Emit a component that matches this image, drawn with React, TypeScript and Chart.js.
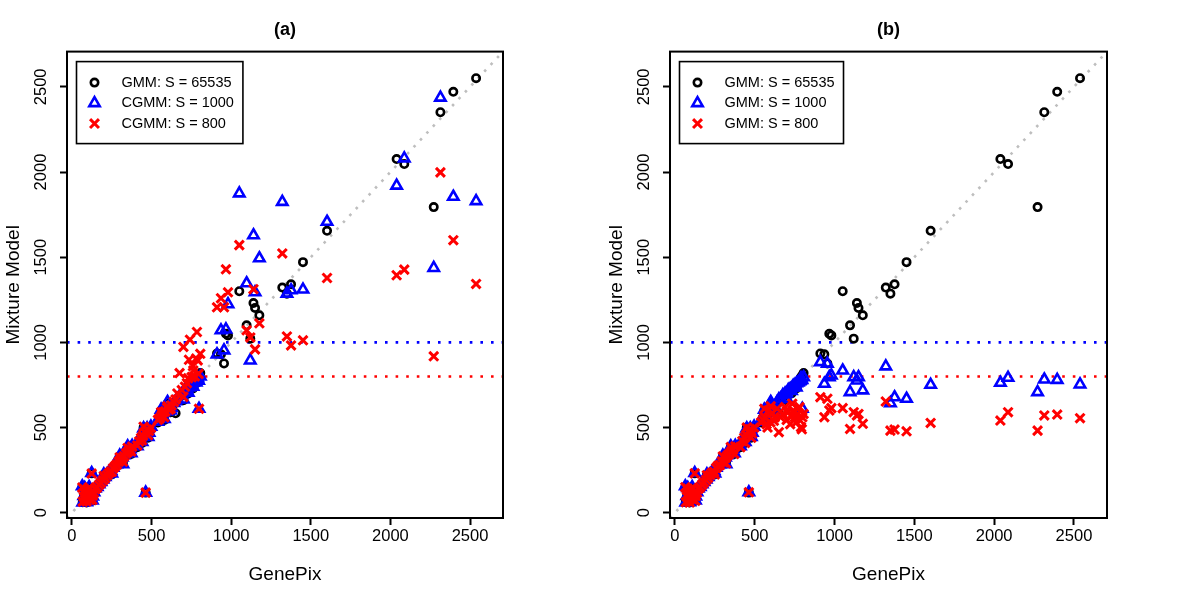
import React, { useEffect, useRef } from 'react';
import { Chart, registerables } from 'chart.js';

Chart.register(...registerables);

// ---------- data ----------
const genePix = [
  65, 68, 75, 82, 88, 95, 100, 106, 112, 118,
  124, 130, 138, 146, 158, 170, 182, 195, 208, 220,
  232, 245, 258, 270, 282, 294, 305, 316, 328, 340,
  352, 365, 378, 410, 422, 434, 446, 458, 463, 472,
  484, 496, 540, 552, 563, 574, 586, 598, 610, 625,
  640, 651, 662, 676, 690, 700, 710, 722, 735, 741,
  752, 762, 772, 785, 790, 798, 806,
  80, 92, 108, 128, 200, 250, 300, 320, 350, 372,
  440, 450, 478, 560, 580, 600, 620, 700, 730, 760,
  780, 795,
  911, 936, 955, 967, 980, 1051, 1097, 1120, 1140, 1150,
  1177, 1321, 1350, 1376, 1451, 1602, 2039, 2087, 2272, 2314,
  2395, 2538,
];

const gmm65535 = [
  150, 62, 95, 72, 112, 86, 130, 102, 78, 120,
  231, 98, 118, 140, 150, 165, 178, 192, 205, 222,
  235, 240, 262, 275, 280, 302, 295, 322, 335, 345,
  360, 370, 390, 385, 420, 440, 455, 475, 118, 490,
  465, 500, 530, 560, 545, 580, 600, 590, 620, 610,
  640, 584, 660, 680, 690, 705, 715, 720, 730, 745,
  750, 760, 770, 785, 795, 805, 820,
  140, 60, 145, 70, 220, 225, 330, 290, 385, 345,
  410, 500, 440, 600, 545, 640, 590, 660, 700, 730,
  760, 770,
  935, 930, 876, 1051, 1041, 1300, 1100, 1022, 1231, 1202,
  1159, 1322, 1286, 1341, 1471, 1655, 2076, 2047, 1794, 2351,
  2471, 2551,
];

const cgmm1000 = [
  155, 60, 98, 70, 115, 88, 128, 100, 80, 122,
  233, 96, 120, 142, 152, 168, 180, 196, 210, 225,
  238, 245, 265, 280, 285, 305, 300, 325, 338, 350,
  365, 375, 392, 390, 425, 445, 460, 480, 118, 495,
  470, 505, 535, 565, 550, 585, 605, 595, 625, 615,
  645, 655, 665, 685, 695, 710, 720, 725, 735, 740,
  755, 765, 770, 780, 790, 610, 800,
  145, 62, 150, 72, 225, 230, 335, 285, 390, 350,
  415, 495, 445, 605, 550, 650, 600, 665, 705, 740,
  765, 775,
  929, 1071, 953, 1076, 1224, 1875, 1347, 894, 1629, 1294,
  1494, 1825, 1286, 1306, 1310, 1708, 1920, 2080, 1437, 2437,
  1855, 1829,
];

const cgmm800 = [
  148, 65, 92, 75, 110, 85, 132, 105, 76, 118,
  230, 100, 116, 138, 148, 163, 176, 190, 203, 220,
  232, 242, 260, 272, 283, 300, 310, 320, 332, 348,
  358, 372, 388, 395, 418, 438, 452, 472, 118, 488,
  480, 498, 545, 555, 570, 590, 595, 615, 605, 630,
  650, 665, 700, 820, 720, 973, 740, 760, 898, 1016,
  796, 835, 800, 1061, 894, 610, 933,
  135, 66, 148, 75, 215, 240, 325, 300, 380, 360,
  425, 505, 455, 590, 560, 625, 610, 680, 790, 860,
  905, 815,
  1206, 1259, 1206, 1429, 1294, 1571, 1071, 1029, 1312, 959,
  1112, 1522, 1035, 982, 1012, 1378, 1394, 1427, 918, 1998,
  1600, 1343,
];

const gmm1000 = [
  155, 60, 98, 70, 115, 88, 128, 100, 80, 122,
  233, 96, 120, 142, 152, 168, 180, 196, 210, 225,
  238, 245, 265, 280, 285, 305, 300, 325, 338, 350,
  365, 375, 392, 390, 425, 445, 460, 480, 120, 495,
  470, 505, 535, 565, 550, 585, 605, 640, 630, 620,
  650, 665, 670, 690, 700, 700, 720, 725, 735, 745,
  750, 760, 765, 775, 790, 610, 796,
  145, 62, 150, 72, 225, 230, 335, 285, 390, 350,
  415, 495, 445, 605, 550, 650, 600, 670, 715, 735,
  770, 780,
  884, 757, 875, 796, 806, 835, 708, 796, 776, 796,
  718, 859, 643, 678, 669, 751, 763, 792, 708, 782,
  780, 753,
];

const gmm800 = [
  150, 62, 95, 72, 112, 86, 130, 102, 78, 120,
  231, 98, 118, 140, 150, 165, 178, 192, 205, 222,
  235, 240, 262, 275, 280, 302, 295, 322, 335, 345,
  360, 370, 390, 385, 420, 440, 455, 475, 120, 490,
  465, 500, 530, 545, 560, 520, 600, 530, 585, 560,
  610, 473, 560, 580, 620, 545, 590, 520, 640, 600,
  560, 575, 610, 541, 502, 560, 580,
  140, 60, 145, 70, 220, 225, 330, 290, 385, 345,
  410, 500, 440, 610, 500, 625, 540, 595, 565, 530,
  620, 490,
  678, 561, 669, 600, 614, 614, 492, 590, 571, 580,
  522, 653, 482, 488, 478, 527, 541, 590, 482, 571,
  576, 555,
];

const axisTicks = [0, 500, 1000, 1500, 2000, 2500];
const axisMin = -31;
const axisMax = 2707;
const thresholdValues = [1000, 800];
const thresholdColors = ['#0000ff', '#ff0000'];

const panelTitles = ['(a)', '(b)'];
const labelsA = ['GMM: S = 65535', 'CGMM: S = 1000', 'CGMM: S = 800'];
const labelsB = ['GMM: S = 65535', 'GMM: S = 1000', 'GMM: S = 800'];
const xTitle = 'GenePix';
const yTitle = 'Mixture Model';

// ---------- styles ----------
const FONT = '"Liberation Sans", Arial, Helvetica, sans-serif';
Chart.defaults.font.family = FONT;

const markerStyles = [
  { pointStyle: 'circle', radius: 3.7, borderWidth: 2.6, color: '#000000', order: 2 },
  { pointStyle: 'triangle', radius: 6, borderWidth: 2.6, color: '#0000ff', order: 1 },
  { pointStyle: 'crossRot', radius: 6.3, borderWidth: 3, color: '#ff0000', order: 0 },
];

function drawMarker(ctx: CanvasRenderingContext2D, style: string, x: number, y: number, r: number) {
  ctx.beginPath();
  if (style === 'circle') {
    ctx.arc(x, y, r, 0, Math.PI * 2);
    ctx.closePath();
  } else if (style === 'triangle') {
    let rad = 0;
    ctx.moveTo(x + Math.sin(rad) * r, y - Math.cos(rad) * r);
    rad += (2 * Math.PI) / 3;
    ctx.lineTo(x + Math.sin(rad) * r, y - Math.cos(rad) * r);
    rad += (2 * Math.PI) / 3;
    ctx.lineTo(x + Math.sin(rad) * r, y - Math.cos(rad) * r);
    ctx.closePath();
  } else {
    const o = Math.cos(Math.PI / 4) * r;
    ctx.moveTo(x - o, y - o);
    ctx.lineTo(x + o, y + o);
    ctx.moveTo(x + o, y - o);
    ctx.lineTo(x - o, y + o);
  }
  ctx.stroke();
}

const decorPlugin = {
  id: 'decor',
  beforeDatasetsDraw(chart: any) {
    const { ctx, chartArea: a } = chart;
    const xs = chart.scales.x;
    const ys = chart.scales.y;
    ctx.save();
    ctx.beginPath();
    ctx.rect(a.left, a.top, a.right - a.left, a.bottom - a.top);
    ctx.clip();
    ctx.lineCap = 'butt';
    // y = x reference line
    const lo = Math.max(xs.min, ys.min);
    const hi = Math.min(xs.max, ys.max);
    ctx.strokeStyle = '#bebebe';
    ctx.lineWidth = 2.6;
    ctx.setLineDash([2.6, 6.8]);
    ctx.beginPath();
    ctx.moveTo(xs.getPixelForValue(lo), ys.getPixelForValue(lo));
    ctx.lineTo(xs.getPixelForValue(hi), ys.getPixelForValue(hi));
    ctx.stroke();
    // thresholds
    thresholdValues.forEach((v, i) => {
      const py = ys.getPixelForValue(v);
      ctx.strokeStyle = thresholdColors[i];
      ctx.lineWidth = 2.6;
      ctx.setLineDash([2.6, 8]);
      ctx.beginPath();
      ctx.moveTo(a.left, py);
      ctx.lineTo(a.right, py);
      ctx.stroke();
    });
    ctx.restore();
  },
  afterDraw(chart: any) {
    const { ctx, chartArea: a } = chart;
    ctx.save();
    ctx.setLineDash([]);
    // plot frame
    ctx.strokeStyle = '#000';
    ctx.lineWidth = 2;
    ctx.strokeRect(a.left, a.top, a.right - a.left, a.bottom - a.top);
    // legend box
    const labels: string[] = chart.data.datasets.map((d: any) => d.label);
    ctx.font = `14.5px ${FONT}`;
    const maxW = Math.max(...labels.map((l) => ctx.measureText(l).width));
    const bx = a.left + 9.5;
    const by = a.top + 10;
    const bw = 45 + maxW + 9;
    const bh = 82;
    ctx.fillStyle = '#fff';
    ctx.fillRect(bx, by, bw, bh);
    ctx.lineWidth = 1.6;
    ctx.strokeRect(bx, by, bw, bh);
    labels.forEach((l, i) => {
      const ry = by + 21 + i * 20.5;
      const ms = markerStyles[i];
      ctx.strokeStyle = ms.color;
      ctx.lineWidth = ms.borderWidth;
      drawMarker(ctx, ms.pointStyle, bx + 18, ry, ms.radius);
      ctx.fillStyle = '#000';
      ctx.textAlign = 'left';
      ctx.textBaseline = 'middle';
      ctx.fillText(l, bx + 45, ry);
    });
    ctx.restore();
  },
};

function makeScale(title: string, isY: boolean) {
  return {
    type: 'linear',
    min: axisMin,
    max: axisMax,
    afterBuildTicks: (s: any) => {
      s.ticks = axisTicks.map((v) => ({ value: v }));
    },
    afterFit: (s: any) => {
      if (isY) s.width = 67;
      else s.height = 77;
    },
    grid: {
      display: true,
      drawOnChartArea: false,
      drawTicks: true,
      tickLength: 7,
      tickWidth: 2,
      tickColor: '#000',
    },
    border: { display: false },
    ticks: isY
      ? {
          color: '#000',
          font: { family: FONT, size: 16.5 },
          minRotation: 90,
          maxRotation: 90,
          crossAlign: 'center',
          padding: 0,
          autoSkip: false,
          callback: (v: any) => String(v),
        }
      : {
          color: '#000',
          font: { family: FONT, size: 16.5 },
          maxRotation: 0,
          padding: 2,
          autoSkip: false,
          callback: (v: any) => String(v),
        },
    title: {
      display: true,
      text: title,
      color: '#000',
      font: { family: FONT, size: 19 },
      padding: isY ? { top: 2, bottom: 0 } : { top: 0, bottom: 9 },
    },
  };
}

function Panel(props: { title: string; labels: string[]; series: number[][]; padLeft: number; padRight: number; left: number }) {
  const ref = useRef<HTMLCanvasElement | null>(null);
  useEffect(() => {
    if (!ref.current) return;
    const datasets = props.series.map((ys, i) => ({
      label: props.labels[i],
      data: genePix.map((x, j) => ({ x, y: ys[j] })),
      pointStyle: markerStyles[i].pointStyle,
      pointRadius: markerStyles[i].radius,
      pointBorderWidth: markerStyles[i].borderWidth,
      borderColor: markerStyles[i].color,
      pointBorderColor: markerStyles[i].color,
      backgroundColor: 'rgba(0,0,0,0)',
      pointBackgroundColor: 'rgba(0,0,0,0)',
      showLine: false,
      order: markerStyles[i].order,
    }));
    const chart = new Chart(ref.current, {
      type: 'scatter',
      data: { datasets } as any,
      options: {
        responsive: false,
        animation: false,
        events: [],
        layout: { padding: { left: props.padLeft, right: props.padRight, top: 0, bottom: 0 } },
        plugins: {
          legend: { display: false },
          tooltip: { enabled: false },
          title: {
            display: true,
            text: props.title,
            fullSize: false,
            color: '#000',
            font: { family: FONT, size: 18, weight: 'bold' },
            padding: { top: 19, bottom: 11 },
          },
        },
        scales: {
          x: makeScale(xTitle, false),
          y: makeScale(yTitle, true),
        } as any,
      } as any,
      plugins: [decorPlugin],
    });
    return () => chart.destroy();
  }, []);
  return (
    <canvas
      ref={ref}
      width={600}
      height={595}
      style={{ position: 'absolute', left: props.left, top: 0, width: 600, height: 595, display: 'block' }}
    />
  );
}

export default function App() {
  return (
    <div style={{ position: 'absolute', left: 0, top: 0, width: 1200, height: 595, background: '#fff' }}>
      <Panel title={panelTitles[0]} labels={labelsA} series={[gmm65535, cgmm1000, cgmm800]} padLeft={0} padRight={97} left={0} />
      <Panel title={panelTitles[1]} labels={labelsB} series={[gmm65535, gmm1000, gmm800]} padLeft={3} padRight={93} left={600} />
    </div>
  );
}
